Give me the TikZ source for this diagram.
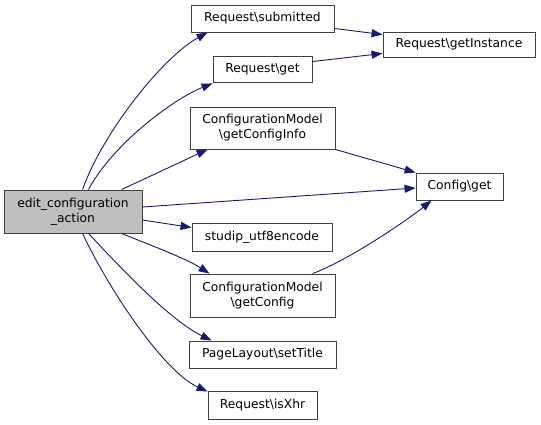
\documentclass[tikz,border=0pt]{standalone}
\usepackage{fontspec}
\setmainfont{DejaVu Sans}
\usetikzlibrary{arrows.meta}
\definecolor{edgeblue}{HTML}{191970}
\definecolor{boxgray}{HTML}{BFBFBF}
\definecolor{boxline}{HTML}{404040}
\tikzset{
  fn/.style={draw=boxline, line width=0.9pt, fill=white, rectangle, inner sep=0pt, align=center,
    font=\fontsize{12.3}{15}\selectfont},
  mainfn/.style={fn, fill=boxgray},
  call/.style={draw=edgeblue, line width=0.9pt, -{Triangle[length=11pt,width=8pt]}},
}
\begin{document}
\begin{tikzpicture}[x=1pt,y=-1pt]
\useasboundingbox (0,0) rectangle (541,424);
\fill[white] (0,0) rectangle (541,424);

\node[mainfn, minimum width=138pt, minimum height=43pt] (main) at (73,211.5) {edit\_configuration\\\_action};
\node[fn, minimum width=143pt, minimum height=27pt] (sub) at (262.5,18.5) {Request\textbackslash submitted};
\node[fn, minimum width=152pt, minimum height=25pt] (inst) at (459,44.5) {Request\textbackslash getInstance};
\node[fn, minimum width=99pt, minimum height=26pt] (rget) at (262.5,69) {Request\textbackslash get};
\node[fn, minimum width=145pt, minimum height=42pt] (cinfo) at (262.5,128) {ConfigurationModel\\\textbackslash getConfigInfo};
\node[fn, minimum width=87pt, minimum height=27pt] (cget) at (459.5,186.5) {Config\textbackslash get};
\node[fn, minimum width=140pt, minimum height=28pt] (utf) at (262,237) {studip\_utf8encode};
\node[fn, minimum width=145pt, minimum height=43pt] (cconf) at (262.5,295.5) {ConfigurationModel\\\textbackslash getConfig};
\node[fn, minimum width=147pt, minimum height=27pt] (title) at (262.5,354.5) {PageLayout\textbackslash setTitle};
\node[fn, minimum width=109pt, minimum height=28pt] (xhr) at (262.5,405) {Request\textbackslash isXhr};

% edges from main
\draw[call] ([xshift=79pt]main.north west) .. controls (103,132) and (163,57) .. ([xshift=17pt]sub.south west);
\draw[call] ([xshift=85pt]main.north west) .. controls (112,145) and (173,99) .. ([yshift=-1pt]rget.south west);
\draw[call] ([xshift=118pt]main.north west) -- ([xshift=18pt]cinfo.south west);
\draw[call] ([yshift=4.5pt]main.east) -- ([yshift=-1.5pt]cget.west);
\draw[call] ([yshift=-8.5pt]main.east) -- ([yshift=-5pt]utf.north west);
\draw[call] ([xshift=118pt]main.south west) .. controls (150,245) and (185,258) .. ([xshift=20pt]cconf.north west);
\draw[call] ([xshift=85pt]main.south west) .. controls (129,277) and (172,321) .. ([xshift=23pt]title.north west);
\draw[call] ([xshift=79pt]main.south west) .. controls (108,288) and (163,371) .. ([yshift=-1pt]xhr.north west);

% secondary edges
\draw[call] ([yshift=4pt]sub.south east) -- ([yshift=-3pt]inst.north west);
\draw[call] ([yshift=-6pt]rget.north east) -- ([yshift=4pt]inst.south west);
\draw[call] (cinfo.south east) -- (cget.north west);
\draw[call] ([xshift=-23pt]cconf.north east) .. controls (345,262) and (405,222) .. ([xshift=16pt]cget.south west);
\end{tikzpicture}
\end{document}
